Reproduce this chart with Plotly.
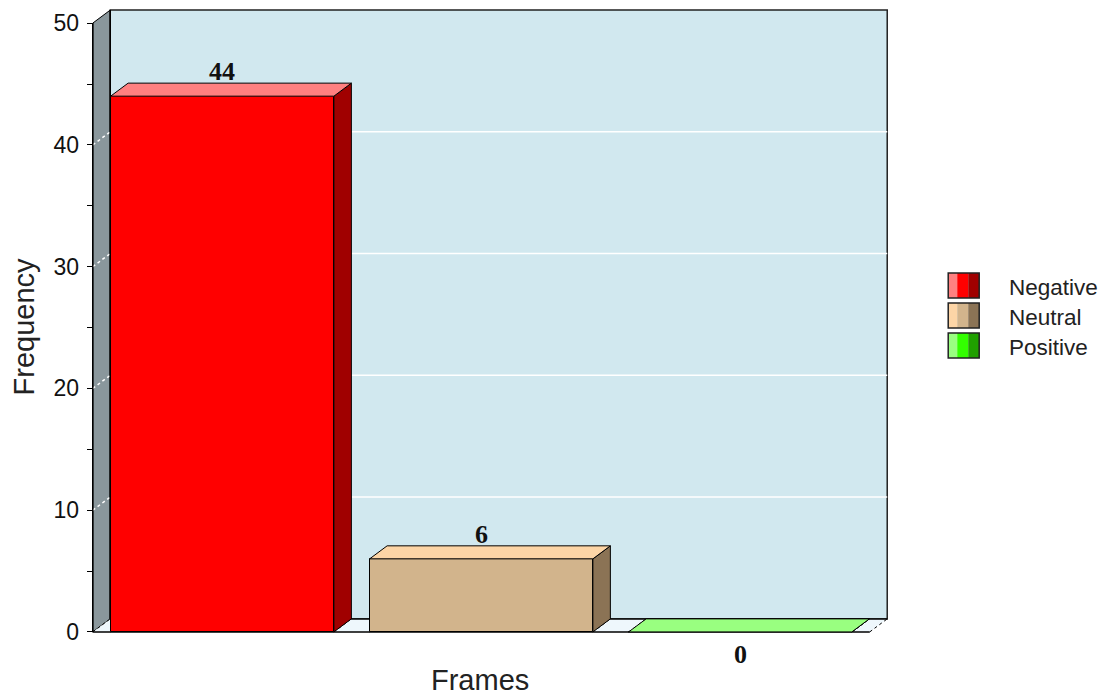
import plotly.graph_objects as go

# ---------------- data ----------------
categories = ["Negative", "Neutral", "Positive"]
values = [44, 6, 0]
front_colors = ["#ff0000", "#d2b48c", "#33ff00"]
top_colors = ["#ff8080", "#fdd5a6", "#99ff80"]
side_colors = ["#a00000", "#8b7355", "#20a000"]
y_tickvals = [0, 10, 20, 30, 40, 50]
x_title = "Frames"
y_title = "Frequency"

# ---------------- layout constants ----------------
FIG_W, FIG_H = 1107, 695
BAR_W = 0.862           # bar width in category units
DX, DY = 0.0675, 1.07   # depth offset of the pseudo-3D box
YMAX = y_tickvals[-1]
n = len(categories)
X0, X1 = -0.5, n - 0.5
PADX, PADY = 0.03, 0.5

PX_LEFT, PX_RIGHT = 92.3, 887.0
PY_BOTTOM, PY_TOP = 632.0, 10.0
SX = (PX_RIGHT - PX_LEFT) / (X1 + DX - X0)
SY = (PY_BOTTOM - PY_TOP) / (YMAX + DY)
xr = [X0 - PADX, X1 + DX + PADX]
yr = [-PADY, YMAX + DY + PADY]
ml = PX_LEFT - PADX * SX
pw = (xr[1] - xr[0]) * SX
mr = FIG_W - ml - pw
mb = FIG_H - PY_BOTTOM - PADY * SY
ph = (yr[1] - yr[0]) * SY
mt = FIG_H - mb - ph


def pxx(px):
    return (px - ml) / pw


def pxy(py):
    return (FIG_H - mb - py) / ph


def path(pts):
    return "M " + " L ".join(f"{x},{y}" for x, y in pts) + " Z"


shapes = []


def seg(x0, y0, x1, y1, color="black", width=1, dash="solid"):
    shapes.append(dict(type="line", xref="x", yref="y", x0=x0, y0=y0, x1=x1, y1=y1,
                       line=dict(color=color, width=width, dash=dash), layer="below"))


# left wall
shapes.append(dict(type="path", xref="x", yref="y",
                   path=path([(X0, 0), (X0, YMAX), (X0 + DX, YMAX + DY), (X0 + DX, DY)]),
                   fillcolor="#8a979c", line=dict(color="black", width=1), layer="below"))
# back wall
shapes.append(dict(type="rect", xref="x", yref="y", x0=X0 + DX, x1=X1 + DX, y0=DY, y1=YMAX + DY,
                   fillcolor="#d1e8ef", line=dict(color="#222222", width=1.5), layer="below"))
# floor
shapes.append(dict(type="path", xref="x", yref="y",
                   path=path([(X0, 0), (X1, 0), (X1 + DX, DY), (X0 + DX, DY)]),
                   fillcolor="#eef7fc", line=dict(width=0), layer="below"))
# grid lines on the walls
for t in y_tickvals[1:-1]:
    seg(X0, t, X0 + DX, t + DY, color="white", width=1.5, dash="dot")
    seg(X0 + DX, t + DY, X1 + DX, t + DY, color="white", width=1.5)
# floor edges
seg(X0, 0, X1, 0, width=1.5)
seg(X0 + DX, DY, X1 + DX, DY, width=1.5)
seg(X0, 0, X0 + DX, DY, dash="dot")
seg(X1, 0, X1 + DX, DY, dash="dot")
for i in range(n):
    for xe in (i - BAR_W / 2, i + BAR_W / 2):
        seg(xe, 0, xe + DX, DY, dash="dot")
# y axis line
seg(X0, 0, X0, YMAX, width=1.5)
seg(X0 + DX, DY, X0 + DX, YMAX + DY, width=1.5)

fig = go.Figure()

# front faces
fig.add_trace(go.Bar(
    x=list(range(n)), y=values, width=BAR_W,
    marker=dict(color=front_colors, line=dict(color="black", width=1)),
    hoverinfo="skip", showlegend=False,
))

# top and side faces
for i, v in enumerate(values):
    xl, xh = i - BAR_W / 2, i + BAR_W / 2
    top = [(xl, v), (xh, v), (xh + DX, v + DY), (xl + DX, v + DY), (xl, v)]
    side = [(xh, 0), (xh + DX, DY), (xh + DX, v + DY), (xh, v), (xh, 0)]
    for pts, col in ((side, side_colors[i]), (top, top_colors[i])):
        fig.add_trace(go.Scatter(
            x=[p[0] for p in pts], y=[p[1] for p in pts], mode="lines",
            fill="toself", fillcolor=col, line=dict(color="black", width=1),
            hoverinfo="skip", showlegend=False,
        ))

annotations = []
# value labels
for i, v in enumerate(values):
    if v > 0:
        annotations.append(dict(x=i, y=v + DY, xref="x", yref="y", text="<b>" + str(v) + "</b>",
                                showarrow=False, yanchor="bottom", yshift=-5,
                                font=dict(family="Liberation Serif", size=26, color="#111111")))
    else:
        annotations.append(dict(x=i, y=v, xref="x", yref="y", text="<b>" + str(v) + "</b>",
                                showarrow=False, yanchor="top", yshift=-6,
                                font=dict(family="Liberation Serif", size=26, color="#111111")))

# axis titles
annotations.append(dict(x=pxx(480), y=pxy(680), xref="paper", yref="paper", text=x_title,
                        showarrow=False, xanchor="center", yanchor="middle",
                        font=dict(family="Liberation Sans", size=29, color="#222222")))
annotations.append(dict(x=pxx(24), y=pxy(326), xref="paper", yref="paper", text=y_title,
                        showarrow=False, xanchor="center", yanchor="middle", textangle=-90,
                        font=dict(family="Liberation Sans", size=29, color="#222222")))

# legend
for k, name in enumerate(categories):
    ytop, ybot = 273 + 30 * k, 298 + 30 * k
    edges = [948, 957, 968, 979]
    cols = [top_colors[k], front_colors[k], side_colors[k]]
    for s in range(3):
        shapes.append(dict(type="rect", xref="paper", yref="paper",
                           x0=pxx(edges[s]), x1=pxx(edges[s + 1]), y0=pxy(ybot), y1=pxy(ytop),
                           fillcolor=cols[s], line=dict(width=0), layer="above"))
    shapes.append(dict(type="rect", xref="paper", yref="paper",
                       x0=pxx(edges[0]), x1=pxx(edges[-1]), y0=pxy(ybot), y1=pxy(ytop),
                       fillcolor="rgba(0,0,0,0)", line=dict(color="#222222", width=1.5), layer="above"))
    annotations.append(dict(x=pxx(1007), y=pxy((ytop + ybot) / 2 + 2), xref="paper", yref="paper",
                            text=name, showarrow=False, xanchor="left", yanchor="middle",
                            font=dict(family="Liberation Sans", size=22.5, color="#222222")))

fig.update_layout(
    width=FIG_W, height=FIG_H,
    margin=dict(l=ml, r=mr, t=mt, b=mb, pad=0),
    paper_bgcolor="white", plot_bgcolor="white",
    showlegend=False, bargap=0,
    xaxis=dict(range=xr, visible=False, fixedrange=True),
    yaxis=dict(range=yr, anchor="free", position=PADX * SX / pw,
               tickvals=y_tickvals, ticktext=[str(t) for t in y_tickvals],
               ticks="outside", ticklen=6, tickwidth=1, tickcolor="black",
               minor=dict(dtick=5, tick0=0, ticks="outside", ticklen=6, tickwidth=1, tickcolor="black"),
               showgrid=False, zeroline=False, showline=False,
               tickfont=dict(family="Liberation Sans", size=23, color="#111111"),
               ticklabelstandoff=3, fixedrange=True),
    shapes=shapes, annotations=annotations,
)

fig.write_html("out.html")
